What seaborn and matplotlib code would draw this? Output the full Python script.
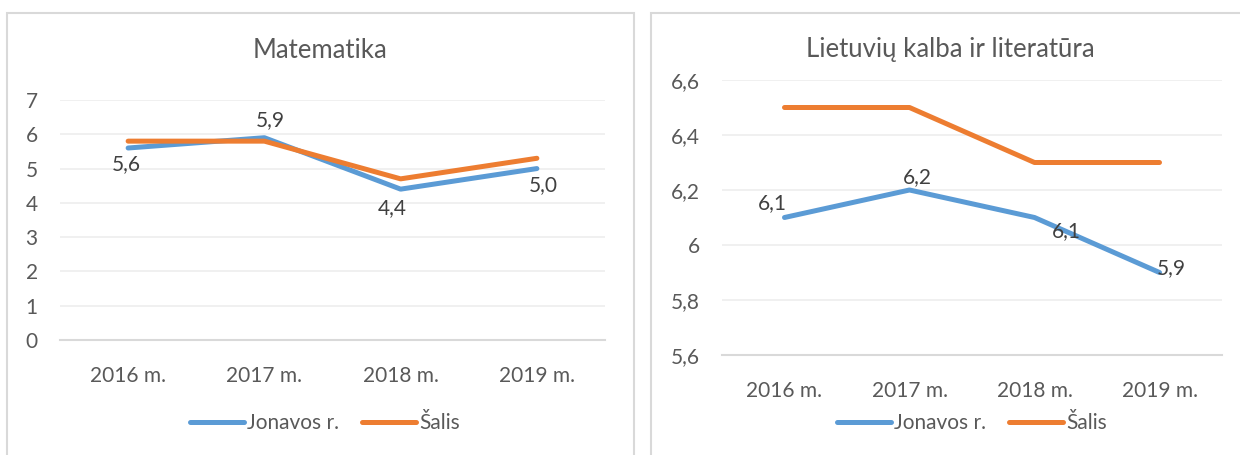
import pandas as pd
import numpy as np
import matplotlib
matplotlib.use('Agg')
import matplotlib.pyplot as plt
import seaborn as sns
from matplotlib.patches import Rectangle

# data
years = ['2016 m.', '2017 m.', '2018 m.', '2019 m.']
series = ['Jonavos r.', 'Šalis']
mat_jonava = [5.6, 5.9, 4.4, 5.0]
mat_salis = [5.8, 5.8, 4.7, 5.3]
lit_jonava = [6.1, 6.2, 6.1, 5.9]
lit_salis = [6.5, 6.5, 6.3, 6.3]
mat_yticks = [0, 1, 2, 3, 4, 5, 6, 7]
lit_yticks = [5.6, 5.8, 6.0, 6.2, 6.4, 6.6]
lit_ylabels = ['5,6', '5,8', '6', '6,2', '6,4', '6,6']

sns.set_theme(style='white')
plt.rcParams['font.family'] = ['Lato', 'DejaVu Sans']

colors = {'Jonavos r.': '#5B9BD5', 'Šalis': '#ED7D31'}
txt = '#595959'
W, H = 1240, 455

def long_df(a, b):
    return pd.DataFrame({'Metai': years * 2,
                         'Balas': a + b,
                         'Serija': [series[0]] * 4 + [series[1]] * 4})

fig = plt.figure(figsize=(W / 100, H / 100), dpi=100)
fig.patch.set_facecolor('white')

# panel frames
for x0, x1 in [(7, 634), (651, 1250)]:
    fig.patches.append(Rectangle((x0 / W, -0.1), (x1 - x0) / W, 1 - 13 / H + 0.1,
                                 transform=fig.transFigure, fill=False,
                                 edgecolor='#D9D9D9', lw=1.5))

axL = fig.add_axes([60 / W, 1 - 340 / H, 545 / W, 240 / H])
axR = fig.add_axes([722 / W, 1 - 355 / H, 500 / W, 275 / H])


def style_axis(ax, ticks, labels, lim):
    ax.set_xlim(-0.5, 3.5)
    ax.set_ylim(*lim)
    ax.set_yticks(ticks)
    ax.set_yticklabels(labels)
    ax.grid(axis='y', color='#EDEDED', lw=1.2)
    ax.grid(axis='x', visible=False)
    ax.set_axisbelow(True)
    for s in ['top', 'right', 'left']:
        ax.spines[s].set_visible(False)
    ax.spines['bottom'].set_color('#D9D9D9')
    ax.spines['bottom'].set_linewidth(1.5)
    ax.tick_params(axis='y', length=0, pad=16, labelsize=15, labelcolor=txt)
    ax.tick_params(axis='x', length=0, pad=19, labelsize=15, labelcolor=txt)
    ax.set_xlabel('')
    ax.set_ylabel('')


def draw(ax, a, b):
    sns.lineplot(data=long_df(a, b), x='Metai', y='Balas', hue='Serija',
                 palette=colors, linewidth=3.6, sort=False, ax=ax,
                 solid_capstyle='round', solid_joinstyle='round')


draw(axL, mat_jonava, mat_salis)
style_axis(axL, mat_yticks, [str(t) for t in mat_yticks], (0, 7))
draw(axR, lit_jonava, lit_salis)
style_axis(axR, lit_yticks, lit_ylabels, (5.6, 6.6))

# data labels for Jonavos r.
offL = [(-2, -16), (6, 18), (-8, -19), (6, -17)]
offR = [(-12, 14), (8, 13), (32, -14), (12, 4)]
for ax, vals, offs in [(axL, mat_jonava, offL), (axR, lit_jonava, offR)]:
    for i, v in enumerate(vals):
        ax.annotate(f'{v:.1f}'.replace('.', ','), (i, v), xytext=offs[i],
                    textcoords='offset pixels', ha='center', va='center',
                    fontsize=15, color='#404040')

# titles
fig.text(320 / W, 1 - 50 / H, 'Matematika', ha='center', va='center',
         fontsize=18.5, color=txt)
fig.text(950 / W, 1 - 50 / H, 'Lietuvių kalba ir literatūra', ha='center',
         va='center', fontsize=18.5, color=txt)

# legends
for ax, cx in [(axL, 325), (axR, 972)]:
    h, l = ax.get_legend_handles_labels()
    leg = ax.legend(h, l, loc='center', bbox_to_anchor=(cx / W, 1 - 423 / H),
                    bbox_transform=fig.transFigure, ncol=2, frameon=False,
                    fontsize=15, labelcolor=txt, handlelength=2.6,
                    handletextpad=0.15, columnspacing=1.1)
    for ln in leg.get_lines():
        ln.set_linewidth(3.6)
        ln.set_solid_capstyle('round')

fig.savefig('out.png', dpi=100, facecolor='white')
